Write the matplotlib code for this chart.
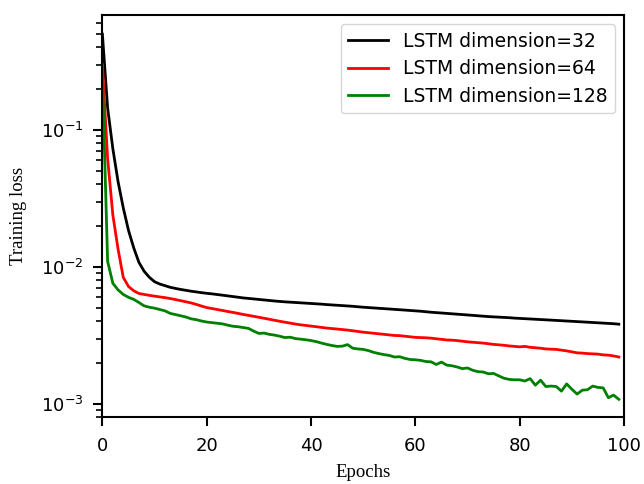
import numpy as np
import matplotlib
matplotlib.use('Agg')
import matplotlib.pyplot as plt

# training loss per epoch
epochs = np.arange(100)

loss_32 = [0.50, 0.145, 0.073, 0.042, 0.027, 0.0185, 0.0138, 0.0108, 0.0093, 0.0084,
           0.0078, 0.0075, 0.0073, 0.0071, 0.00697, 0.00685, 0.00675, 0.00665, 0.00657, 0.00649,
           0.00642, 0.00636, 0.00629, 0.00622, 0.00615, 0.00608, 0.00601, 0.00594, 0.00589, 0.00584,
           0.00579, 0.00574, 0.00569, 0.00564, 0.0056, 0.00556, 0.00553, 0.0055, 0.00547, 0.00544,
           0.00541, 0.00538, 0.00535, 0.00531, 0.00528, 0.00525, 0.00522, 0.00519, 0.00516, 0.00512,
           0.00508, 0.00505, 0.00502, 0.00499, 0.00496, 0.00493, 0.0049, 0.00487, 0.00484, 0.00481,
           0.00478, 0.00475, 0.00471, 0.00467, 0.00464, 0.00461, 0.00458, 0.00455, 0.00452, 0.00449,
           0.00446, 0.00443, 0.0044, 0.00437, 0.00434, 0.00432, 0.0043, 0.00428, 0.00426, 0.00423,
           0.00421, 0.00419, 0.00417, 0.00415, 0.00413, 0.00411, 0.00409, 0.00407, 0.00405, 0.00403,
           0.00401, 0.00399, 0.00397, 0.00395, 0.00393, 0.00391, 0.00389, 0.00387, 0.00385, 0.00382]

loss_64 = [0.30, 0.062, 0.024, 0.0135, 0.0084, 0.0072, 0.0067, 0.0064, 0.0063, 0.0062,
           0.00612, 0.00604, 0.00597, 0.00588, 0.00578, 0.00567, 0.00557, 0.00546, 0.00533, 0.00518,
           0.00505, 0.00497, 0.00489, 0.00481, 0.00473, 0.00466, 0.00458, 0.0045, 0.00443, 0.00436,
           0.00429, 0.00422, 0.00415, 0.00408, 0.00401, 0.00395, 0.00389, 0.00383, 0.00378, 0.00374,
           0.0037, 0.00366, 0.00362, 0.00358, 0.00355, 0.00352, 0.00349, 0.00346, 0.00342, 0.00338,
           0.00334, 0.00331, 0.00328, 0.00325, 0.00322, 0.00319, 0.00316, 0.00315, 0.00312, 0.00309,
           0.00306, 0.00305, 0.00304, 0.00302, 0.00299, 0.00296, 0.00293, 0.00292, 0.0029, 0.00287,
           0.00284, 0.00282, 0.0028, 0.00278, 0.00275, 0.00272, 0.0027, 0.00268, 0.00265, 0.00263,
           0.00261, 0.00263, 0.00259, 0.00257, 0.00255, 0.00252, 0.00251, 0.0025, 0.00247, 0.00244,
           0.0024, 0.00236, 0.00235, 0.00233, 0.00232, 0.00231, 0.00228, 0.00227, 0.00224, 0.0022]

loss_128 = [0.25, 0.011, 0.0076, 0.0068, 0.0063, 0.006, 0.0058, 0.0055, 0.0052, 0.00508,
            0.005, 0.00489, 0.00478, 0.00458, 0.00449, 0.0044, 0.00431, 0.00418, 0.00412, 0.00403,
            0.00396, 0.00392, 0.00388, 0.00384, 0.00376, 0.00369, 0.00366, 0.00361, 0.00356, 0.0034,
            0.00327, 0.00329, 0.00322, 0.00318, 0.00312, 0.00305, 0.00307, 0.003, 0.00297, 0.00294,
            0.0029, 0.00285, 0.00278, 0.00272, 0.00267, 0.00263, 0.00264, 0.00271, 0.00255, 0.00252,
            0.0025, 0.00245, 0.00238, 0.00233, 0.00229, 0.00226, 0.0022, 0.00221, 0.00215, 0.00211,
            0.0021, 0.00208, 0.00204, 0.00203, 0.00194, 0.00202, 0.00192, 0.0019, 0.00186, 0.00181,
            0.00183, 0.00176, 0.00172, 0.00171, 0.00166, 0.00167, 0.0016, 0.00154, 0.00151, 0.0015,
            0.0015, 0.00147, 0.00153, 0.00137, 0.00149, 0.00134, 0.00135, 0.00134, 0.00124, 0.0014,
            0.00128, 0.00118, 0.00126, 0.00127, 0.00135, 0.00132, 0.00131, 0.00111, 0.00116, 0.00108]

labels = ['LSTM dimension=32', 'LSTM dimension=64', 'LSTM dimension=128']
colors = ['black', 'red', 'green']

fig = plt.figure(figsize=(6.44, 4.84), dpi=100)
ax = fig.add_axes([0.159, 0.138, 0.810, 0.831])

for y, lab, c in zip([loss_32, loss_64, loss_128], labels, colors):
    ax.plot(epochs, y, color=c, linewidth=2, label=lab)

ax.set_yscale('log')
ax.set_xlim(0, 100)
ax.set_ylim(8.0e-4, 0.69)
ax.set_xticks([0, 20, 40, 60, 80, 100])

for s in ax.spines.values():
    s.set_linewidth(1.5)
ax.tick_params(which='major', length=6.5, width=1.5, labelsize=13)
ax.tick_params(which='minor', length=4, width=1.2)
ax.tick_params(axis='x', which='major', pad=8)
ax.tick_params(axis='y', which='major', pad=7)

ax.set_xlabel('Epochs', family='Liberation Serif', fontsize=13.5, labelpad=6)
ax.set_ylabel('Training loss', family='Liberation Serif', fontsize=13.5, labelpad=10)

ax.legend(loc='upper right', fontsize=13.5, handlelength=2.1, labelspacing=0.45)

fig.savefig('out.png', dpi=100)
